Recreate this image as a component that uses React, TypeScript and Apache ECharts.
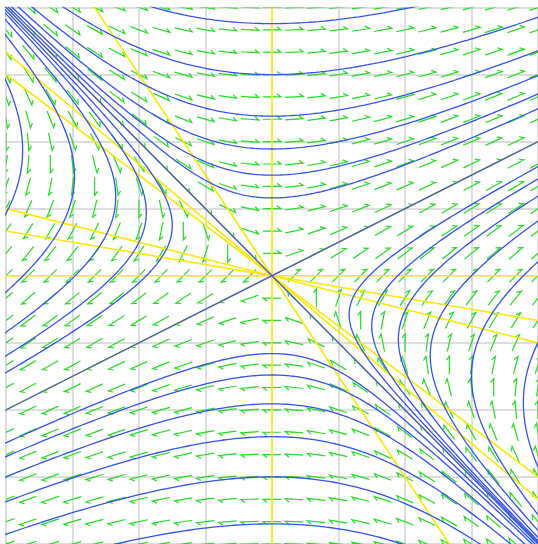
import React, { useEffect, useRef } from "react";
import * as echarts from "echarts";

// Linear system: x' = x + 2y, y' = x
const systemMatrix = [
  [1, 2],
  [1, 0],
];
// Eigenvectors (straight-line solutions)
const eigenVectors = [
  [1, -1],
  [2, 1],
];
// Isocline slopes dy/dx drawn in yellow
const isoclineSlopes = [-2, -1.5, -1, -0.5, 0, 0.5, 1, 1.5, 2];
// Axis ticks (grid lines)
const axisTicks = [-4, -3, -2, -1, 0, 1, 2, 3, 4];
// Direction-field sample index (value = index / 3)
const fieldIndex = [-12, -11, -10, -9, -8, -7, -6, -5, -4, -3, -2, -1, 0, 1, 2, 3, 4, 5, 6, 7, 8, 9, 10, 11, 12];
// Trajectories: y where each crosses x = 0 (upper / lower families)
const topCrossings = [1.16, 1.5, 1.89, 2.38, 3.0, 3.76];
const bottomCrossings = [-1.16, -1.48, -1.91, -2.4, -3.0, -3.7];
// Trajectories: turning x on the line y = -x/2 (left / right families)
const leftVertices = [-1.5, -1.89, -2.35, -2.97, -3.75];
const rightVertices = [1.16, 1.5, 1.9, 2.38, 3.0, 3.78];

const BLUE = "#3352ee";
const YELLOW = "#fae800";
const GREEN = "#22dd22";
const GRID = "#d2d2d2";

function trajectory(C: number, uSign: number): number[][] {
  // eigen coordinates: u along (1,-1), w along (2,1); invariant u^2 w = C
  const pts: number[][] = [];
  const steps = 900;
  for (let i = 0; i <= steps; i++) {
    const s = -6 + (9 * i) / steps;
    const u = uSign * Math.exp(s);
    const w = C / (u * u);
    const x = u * eigenVectors[0][0] + w * eigenVectors[1][0];
    const y = u * eigenVectors[0][1] + w * eigenVectors[1][1];
    if (Math.abs(x) <= 9 && Math.abs(y) <= 9) pts.push([x, y]);
  }
  return pts;
}

function buildOption() {
  const series: any[] = [];

  const fieldData: number[][] = [];
  for (const i of fieldIndex) for (const j of fieldIndex) fieldData.push([i / 3, j / 3]);

  series.push({
    type: "custom",
    clip: true,
    silent: true,
    z: 2,
    data: fieldData,
    renderItem: (params: any, api: any) => {
      const x = api.value(0);
      const y = api.value(1);
      const dx = systemMatrix[0][0] * x + systemMatrix[0][1] * y;
      const dy = systemMatrix[1][0] * x + systemMatrix[1][1] * y;
      if (dx === 0 && dy === 0) return null;
      const p = api.coord([x, y]);
      const q = api.coord([x + dx * 0.001, y + dy * 0.001]);
      let vx = q[0] - p[0];
      let vy = q[1] - p[1];
      const n = Math.hypot(vx, vy);
      vx /= n;
      vy /= n;
      const L = 9;
      const tail = [p[0] - vx * L, p[1] - vy * L];
      const tip = [p[0] + vx * L, p[1] + vy * L];
      const barb = [tip[0] - vx * 4 + vy * 3, tip[1] - vy * 4 - vx * 3];
      return {
        type: "polyline",
        shape: { points: [tail, tip, barb] },
        style: { stroke: GREEN, fill: null, lineWidth: 1.2 },
      };
    },
  });

  // Isoclines: x/(x+2y) = m  ->  y = x(1-m)/(2m); m = 0 -> x = 0
  series.push({
    type: "custom",
    clip: true,
    silent: true,
    z: 10,
    data: isoclineSlopes.map((m) => [m, 0]),
    renderItem: (params: any, api: any) => {
      const m = api.value(0);
      let a: number[];
      let b: number[];
      if (m === 0) {
        a = api.coord([0, -10]);
        b = api.coord([0, 10]);
      } else {
        const s = (1 - m) / (2 * m);
        a = api.coord([-10, -10 * s]);
        b = api.coord([10, 10 * s]);
      }
      // tiny offset of the midpoint keeps the bounding box non-degenerate
      const mid = [(a[0] + b[0]) / 2 + 0.02, (a[1] + b[1]) / 2 + 0.02];
      return {
        type: "polyline",
        z2: 10,
        shape: { points: [a, mid, b] },
        style: { stroke: YELLOW, fill: null, lineWidth: 1.6 },
      };
    },
  });

  const curves: number[][][] = [];
  for (const v of eigenVectors) curves.push([[-10 * v[0], -10 * v[1]], [10 * v[0], 10 * v[1]]]);
  for (const y0 of topCrossings) curves.push(trajectory((4 * y0 ** 3) / 27, -1));
  for (const y0 of bottomCrossings) curves.push(trajectory((4 * y0 ** 3) / 27, 1));
  for (const x0 of leftVertices) curves.push(trajectory((2 * x0 ** 3) / 27, -1));
  for (const x0 of rightVertices) curves.push(trajectory((2 * x0 ** 3) / 27, 1));

  for (const c of curves) {
    series.push({
      type: "line",
      data: c,
      clip: true,
      silent: true,
      showSymbol: false,
      symbol: "none",
      z: 12,
      lineStyle: { color: BLUE, width: 1.3 },
    });
  }

  // grid line colours per tick; the line at 0 is covered by the yellow isocline
  const gridColors = axisTicks.map((t) => (t === 0 ? "rgba(0,0,0,0)" : GRID));

  const axisCommon = {
    type: "value",
    min: axisTicks[0],
    max: axisTicks[axisTicks.length - 1],
    interval: 1,
    z: 0,
    axisLine: { show: false },
    axisTick: { show: false },
    axisLabel: { show: false },
    splitLine: { show: true, lineStyle: { color: gridColors, width: 1.5 } },
  };

  return {
    animation: false,
    backgroundColor: "#ffffff",
    grid: { left: 6, top: 7.5, width: 537, height: 538, containLabel: false },
    xAxis: { ...axisCommon },
    yAxis: { ...axisCommon },
    series,
  };
}

export default function App() {
  const ref = useRef<HTMLDivElement>(null);
  useEffect(() => {
    if (!ref.current) return;
    const chart = echarts.init(ref.current, undefined, { renderer: "svg" });
    chart.setOption(buildOption() as any);
    return () => chart.dispose();
  }, []);
  return (
    <div
      ref={ref}
      style={{ position: "absolute", left: 0, top: 0, width: 538, height: 544, background: "#fff" }}
    />
  );
}
